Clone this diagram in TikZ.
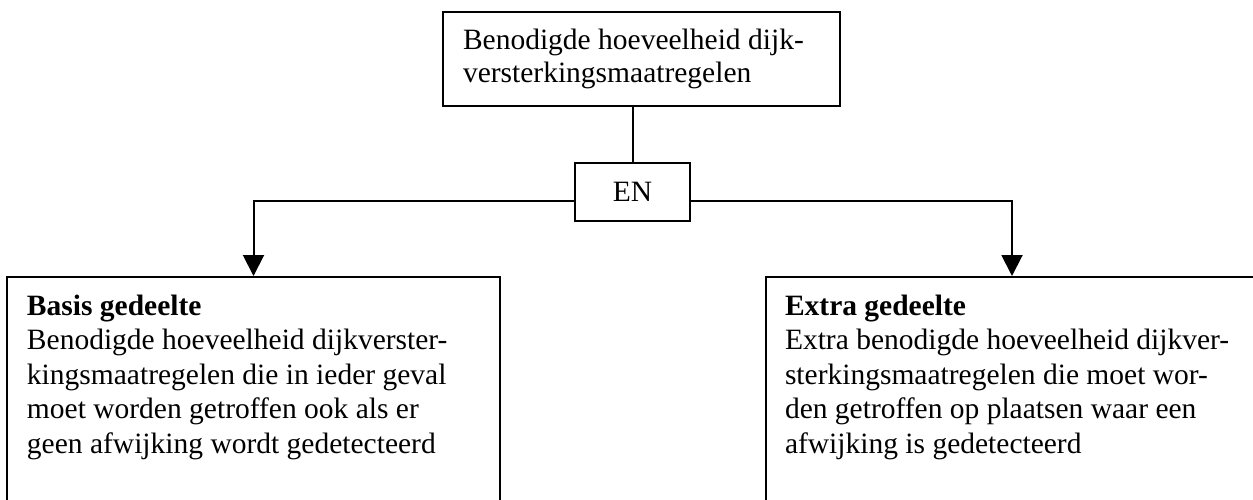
\documentclass[tikz,border=0pt]{standalone}
\usepackage{fontspec}
\setmainfont{Liberation Serif}
\usetikzlibrary{arrows.meta}
\tikzset{
  box/.style={draw, line width=2pt, inner sep=0pt},
  txt/.style={inner sep=0pt, outer sep=0pt, align=left,
              font=\fontsize{29.5}{34.5}\selectfont},
  link/.style={line width=2pt},
  tip/.style={-{Triangle[width=21pt,length=21pt]}}
}
\begin{document}
\begin{tikzpicture}[x=1pt,y=-1pt]
\useasboundingbox (0,0) rectangle (1253,499);
\clip (0,0) rectangle (1253,499);

% boxes
\node[box, minimum width=397pt, minimum height=94pt] (top) at (641.5,59) {};
\node[box, minimum width=115pt, minimum height=58pt,
      font=\fontsize{29.5}{34}\selectfont] (en) at (632.5,192) {EN};
\node[box, minimum width=493pt, minimum height=290pt, anchor=north] (basis) at (253.5,276) {};
\node[box, minimum width=493pt, minimum height=290pt, anchor=north] (extra) at (1012,276) {};

% texts (anchored at the baseline of the last line)
\node[txt, font=\fontsize{29.5}{33}\selectfont, anchor=base west] (toptext) at (463,82)
  {Benodigde hoeveelheid dijk-\\versterkingsmaatregelen};
\node[txt, anchor=base west] (basistext) at (27,453)
  {\textbf{Basis gedeelte}\\
   Benodigde hoeveelheid dijkverster-\\
   kingsmaatregelen die in ieder geval\\
   moet worden getroffen ook als er\\
   geen afwijking wordt gedetecteerd};
\node[txt, anchor=base west] (extratext) at (785,453)
  {\textbf{Extra gedeelte}\\
   Extra benodigde hoeveelheid dijkver-\\
   sterkingsmaatregelen die moet wor-\\
   den getroffen op plaatsen waar een\\
   afwijking is gedetecteerd};

% connectors
\draw[link] (en.north) -- (en.north |- top.south);
\draw[link, tip] ([yshift=-9pt]en.west) -| (basis.north);
\draw[link, tip] ([yshift=-9pt]en.east) -| (extra.north);
\end{tikzpicture}
\end{document}
